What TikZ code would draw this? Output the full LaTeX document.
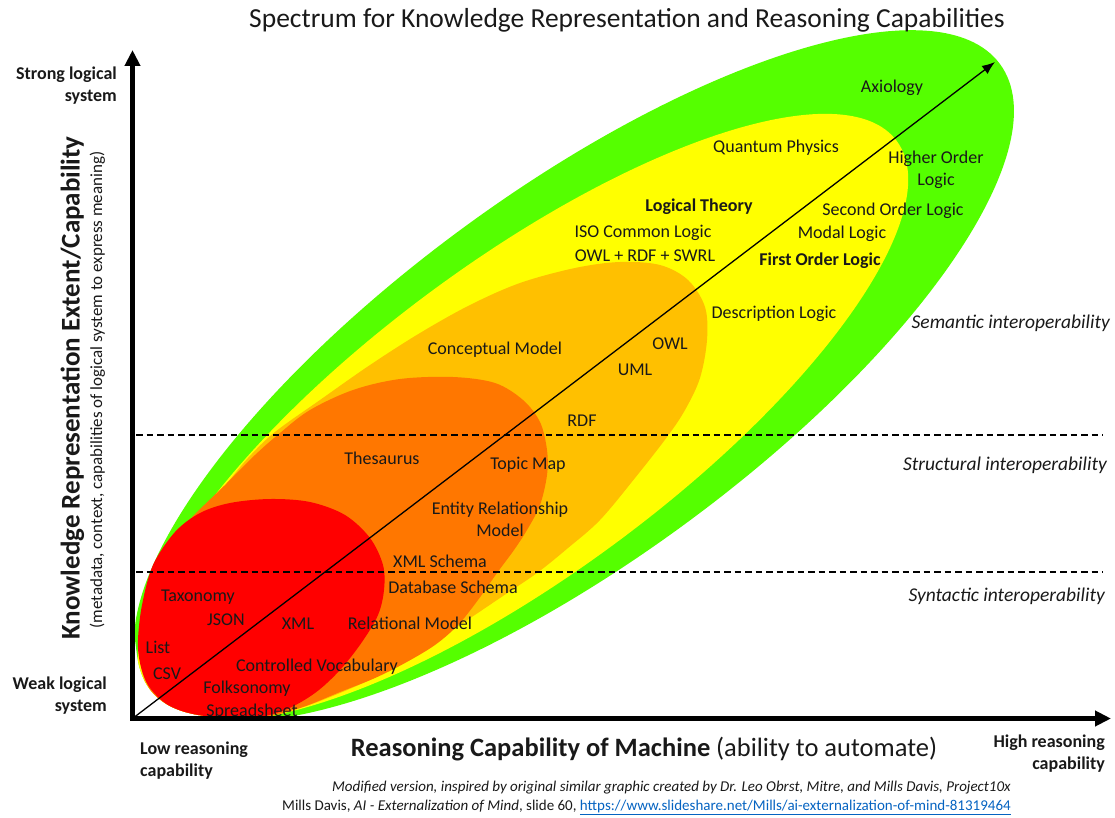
\documentclass[tikz,border=0pt]{standalone}
\usepackage{fontspec}
\setmainfont{Carlito}
\usetikzlibrary{arrows.meta}
\definecolor{kgreen}{RGB}{85,255,0}
\definecolor{kyellow}{RGB}{255,255,0}
\definecolor{korange}{RGB}{255,192,0}
\definecolor{kdark}{RGB}{255,119,0}
\definecolor{kred}{RGB}{255,0,0}
\definecolor{ktext}{RGB}{25,25,25}
\definecolor{klink}{RGB}{5,99,193}
\begin{document}
\begin{tikzpicture}[x=1pt,y=-1pt,
  lbl/.style={font=\fontsize{18}{22}\selectfont, text=ktext, inner sep=0pt, anchor=base},
  lblb/.style={lbl, font=\fontsize{18}{22}\selectfont\bfseries},
  lbltwo/.style={lbl, align=center, anchor=center},
  sidelbl/.style={font=\fontsize{18}{22}\selectfont\bfseries, text=ktext, inner sep=0pt},
  interop/.style={font=\fontsize{19.5}{23}\selectfont\itshape, text=ktext, inner sep=0pt, anchor=base east},
  credit/.style={font=\fontsize{15}{18}\selectfont, text=ktext, inner sep=0pt, anchor=base east},
  dashline/.style={draw=black, line width=1.2pt, dash pattern=on 6.5pt off 4pt},
  diagline/.style={draw=black, line width=1.3pt, -{Latex[length=13pt,width=10pt]}},
  axisline/.style={draw=black, line width=5pt, line join=miter,
     {Triangle[length=16pt,width=15pt]}-{Triangle[length=16pt,width=15pt]}}
]
\useasboundingbox (0,0) rectangle (1115,818);

% coordinates
\coordinate (ytip) at (132.5,50);
\coordinate (corner) at (132.5,718.5);
\coordinate (xtip) at (1111,718.5);
\coordinate (dtip) at (995,62);
\coordinate (d1a) at (136,435);
\coordinate (d1b) at (1103,435);
\coordinate (d2a) at (136,572);
\coordinate (d2b) at (1103,572);

% nested regions
\begin{scope}
\clip (135,0) -- (1115,0) -- (1115,716) -- (205,716)
      .. controls (165,711) and (142,693) .. (137,655) -- (135,640) -- cycle;
\fill[kgreen, rotate around={36.2:(574,376)}] (574,376) ellipse [x radius=528, y radius=185];
\fill[kyellow, rotate around={36.5:(523,417.6)}] (523,417.6) ellipse [x radius=465, y radius=156];
\fill[korange] plot[smooth cycle, tension=0.55] coordinates {
 (140,655) (147,600) (165,553) (190,520) (221,490) (248,458) (275,432) (320,400)
 (370,365) (420,333) (470,305) (520,283) (575,268) (620,262) (660,265) (688,280)
 (705,307) (707,340) (700,378) (685,410) (667,437) (635,478) (600,520) (568,548)
 (537,573) (500,598) (460,625) (420,652) (380,675) (340,693) (300,708) (255,718)
 (210,719) (170,709) (148,688)};
\fill[kdark] plot[smooth cycle, tension=0.55] coordinates {
 (139,650) (144,605) (158,565) (185,525) (225,485) (255,455) (280,433) (310,410)
 (353,390) (400,379) (453,377) (495,383) (523,400) (540,422) (547,450) (547,475)
 (540,505) (527,530) (514,550) (497,573) (478,600) (458,625) (435,645) (405,663)
 (375,678) (340,692) (300,708) (255,719) (210,719) (172,710) (150,690)};
\fill[kred] plot[smooth cycle, tension=0.55] coordinates {
 (138,640) (142,605) (153,565) (175,532) (200,513) (230,503) (270,499) (310,502)
 (345,515) (370,538) (383,565) (384,590) (378,615) (362,642) (340,670) (315,693)
 (285,710) (250,719) (215,720) (188,714) (165,703) (148,685) (140,663)};
\end{scope}

% dashed lines
\draw[dashline] (d1a) -- (d1b);
\draw[dashline] (d2a) -- (d2b);

% diagonal arrow
\draw[diagline] (corner) -- (dtip);

% labels in regions
\node[lbl] (axiology) at (892,93) {Axiology};
\node[lbl] (quantum) at (776,153) {Quantum Physics};
\node[lbltwo] (higher) at (936,170) {Higher Order\\Logic};
\node[lblb] (logtheory) at (699,212) {Logical Theory};
\node[lbl] (second) at (893,215) {Second Order Logic};
\node[lbl] (iso) at (643,237) {ISO Common Logic};
\node[lbl] (modal) at (842,238) {Modal Logic};
\node[lbl] (owlrdf) at (645,261) {OWL + RDF + SWRL};
\node[lblb] (first) at (820,265) {First Order Logic};
\node[lbl] (descr) at (774,318) {Description Logic};
\node[lbl] (concept) at (495,354) {Conceptual Model};
\node[lbl] (owl) at (670,349) {OWL};
\node[lbl] (uml) at (635,375) {UML};
\node[lbl] (rdf) at (582,426) {RDF};
\node[lbl] (thes) at (382,464) {Thesaurus};
\node[lbl] (topic) at (528,469) {Topic Map};
\node[lbltwo] (entity) at (500,519) {Entity Relationship\\Model};
\node[lbl] (xmlschema) at (440,567) {XML Schema};
\node[lbl] (dbschema) at (453,593) {Database Schema};
\node[lbl] (taxonomy) at (198,601) {Taxonomy};
\node[lbl] (json) at (226,625) {JSON};
\node[lbl] (xml) at (298,629) {XML};
\node[lbl] (relational) at (410,629) {Relational Model};
\node[lbl] (list) at (158,653) {List};
\node[lbl] (csv) at (167,679) {CSV};
\node[lbl] (vocab) at (317,671) {Controlled Vocabulary};
\node[lbl] (folk) at (247,693) {Folksonomy};
\node[lbl] (spread) at (252,716) {Spreadsheet};

% interoperability labels
\node[interop] (semantic) at (1110,328) {Semantic interoperability};
\node[interop] (structural) at (1107,470) {Structural interoperability};
\node[interop] (syntactic) at (1105,601) {Syntactic interoperability};

% axes
\draw[axisline] (ytip) -- (corner) -- (xtip);

% title and axis titles
\node[font=\fontsize{27.5}{33}\selectfont, text=ktext, inner sep=0pt, anchor=base] (title) at (627,27.5)
  {Spectrum for Knowledge Representation and Reasoning Capabilities};
\node[font=\fontsize{26.5}{32}\selectfont, text=ktext, inner sep=0pt, anchor=base] (xtitle) at (644,756.5)
  {\textbf{Reasoning Capability of Machine} (ability to automate)};
\node[font=\fontsize{27}{32}\selectfont\bfseries, text=ktext, inner sep=0pt, anchor=base, rotate=90] (ytitle) at (79.5,388)
  {Knowledge Representation Extent/Capability};
\node[font=\fontsize{17}{20}\selectfont, text=ktext, inner sep=0pt, anchor=base, rotate=90] (ysub) at (102,390)
  {(metadata, context, capabilities of logical system to express meaning)};

% side labels
\node[sidelbl, align=right, anchor=east] (strong) at (117,86) {Strong logical\\system};
\node[sidelbl, align=right, anchor=east] (weak) at (107,695.5) {Weak logical\\system};
\node[sidelbl, align=left, anchor=west] (low) at (140,760.5) {Low reasoning\\capability};
\node[sidelbl, align=right, anchor=east] (high) at (1105,753.5) {High reasoning\\capability};

% credits
\node[credit] (credit1) at (1011,791)
  {\itshape Modified version, inspired by original similar graphic created by Dr. Leo Obrst, Mitre, and Mills Davis, Project10x};
\node[credit] (credit2) at (1011,810)
  {Mills Davis, \textit{AI - Externalization of Mind}, slide 60, \textcolor{klink}{\underline{https://www.slideshare.net/Mills/ai-externalization-of-mind-81319464}}};
\end{tikzpicture}
\end{document}
